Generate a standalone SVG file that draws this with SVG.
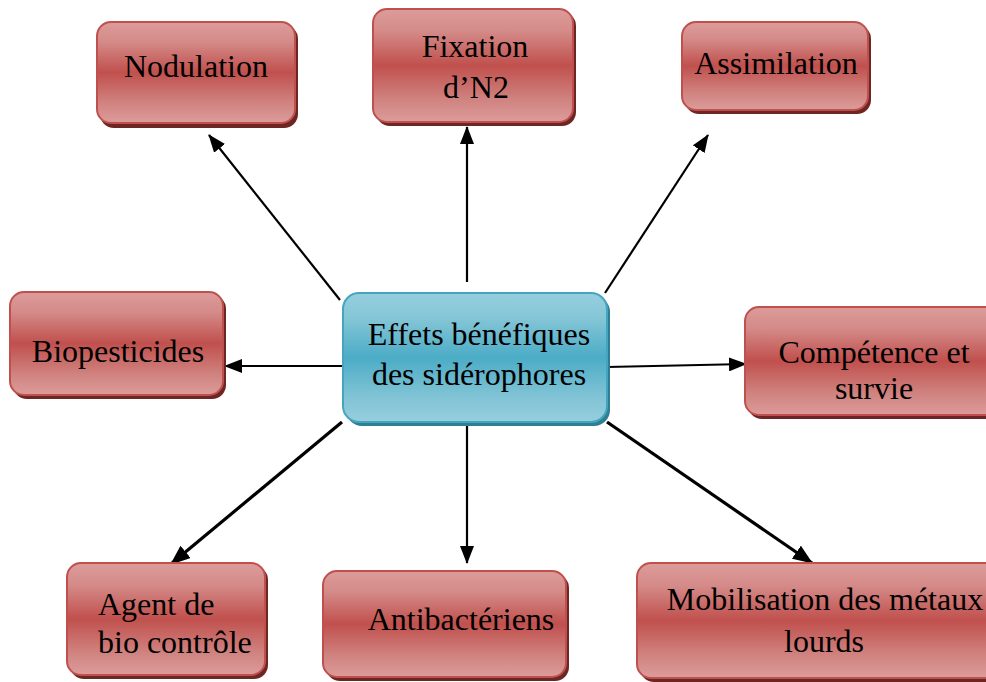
<svg xmlns="http://www.w3.org/2000/svg" width="986" height="682" viewBox="0 0 986 682">
<defs>
<linearGradient id="gRed" x1="0" y1="0" x2="0" y2="1">
<stop offset="0" stop-color="#dc9c9a"/>
<stop offset="0.2" stop-color="#d48a88"/>
<stop offset="0.5" stop-color="#c0504d"/>
<stop offset="0.8" stop-color="#d08380"/>
<stop offset="1" stop-color="#dc9c9a"/>
</linearGradient>
<linearGradient id="gBlue" x1="0" y1="0" x2="0" y2="1">
<stop offset="0" stop-color="#96cfde"/>
<stop offset="0.2" stop-color="#84c5d6"/>
<stop offset="0.5" stop-color="#4bacc6"/>
<stop offset="0.8" stop-color="#80c3d5"/>
<stop offset="1" stop-color="#96cfde"/>
</linearGradient>
<marker id="ah" viewBox="0 0 18 14" markerWidth="18" markerHeight="14" refX="17" refY="7" orient="auto" markerUnits="userSpaceOnUse">
<path d="M0,0 L18,7 L0,14 z" fill="#000"/>
</marker>
<marker id="ahb" viewBox="0 0 20 16" markerWidth="20" markerHeight="16" refX="19" refY="8" orient="auto" markerUnits="userSpaceOnUse">
<path d="M0,0 L20,8 L0,16 z" fill="#000"/>
</marker>
</defs>
<style>
.sh{fill:#6e2624}
.bx{fill:url(#gRed);stroke:#c0504d;stroke-width:2}
.shb{fill:#2e7f94}
.bxb{fill:url(#gBlue);stroke:#45a5bf;stroke-width:2}
text{font-family:"Liberation Serif","Times New Roman","DejaVu Serif",serif;font-size:32px;fill:#000}
.c{text-anchor:middle}
.ln{stroke:#000;stroke-width:2.2;fill:none;marker-end:url(#ah)}
.lnb{stroke:#000;stroke-width:3.2;fill:none;marker-end:url(#ahb)}
</style>
<g id="connectors">
<line class="ln" x1="340" y1="300" x2="209" y2="135"/>
<line class="ln" x1="467" y1="282" x2="467" y2="127"/>
<line class="ln" x1="605" y1="293" x2="708" y2="135"/>
<line class="ln" x1="343" y1="366" x2="225" y2="366"/>
<line class="ln" x1="607" y1="367" x2="746" y2="364"/>
<line class="lnb" x1="342" y1="422" x2="171" y2="564"/>
<line class="ln" x1="467" y1="420" x2="467" y2="563"/>
<line class="lnb" x1="607" y1="422" x2="812" y2="563"/>
</g>
<g id="nodulation">
<rect class="sh" x="100" y="25" width="198" height="103" rx="14"/>
<rect class="bx" x="97" y="22" width="198" height="101" rx="14"/>
<text class="c" x="196" y="77" font-family="Liberation Serif, serif">Nodulation</text>
</g>
<g id="fixation">
<rect class="sh" x="376" y="12" width="200" height="114" rx="14"/>
<rect class="bx" x="373" y="9" width="200" height="113" rx="14"/>
<text class="c" x="475" y="57">Fixation</text>
<text class="c" x="476" y="98">d’N2</text>
</g>
<g id="assimilation">
<rect class="sh" x="685" y="25" width="186" height="89" rx="14"/>
<rect class="bx" x="682" y="22" width="186" height="88" rx="14"/>
<text class="c" x="776" y="74">Assimilation</text>
</g>
<g id="biopesticides">
<rect class="sh" x="13" y="295" width="213" height="104" rx="14"/>
<rect class="bx" x="10" y="292" width="213" height="103" rx="14"/>
<text class="c" x="118" y="362">Biopesticides</text>
</g>
<g id="center">
<rect class="shb" x="346" y="296" width="264" height="130" rx="16"/>
<rect class="bxb" x="343" y="293" width="264" height="129" rx="16"/>
<text class="c" x="479" y="345">Effets bénéfiques</text>
<text class="c" x="479" y="385">des sidérophores</text>
</g>
<g id="competence">
<rect class="sh" x="748" y="310" width="260" height="109" rx="14"/>
<rect class="bx" x="745" y="307" width="260" height="108" rx="14"/>
<text class="c" x="874" y="363">Compétence et</text>
<text class="c" x="874" y="399">survie</text>
</g>
<g id="agent">
<rect class="sh" x="70" y="566" width="198" height="113" rx="14"/>
<rect class="bx" x="67" y="563" width="198" height="112" rx="14"/>
<text x="98" y="615">Agent de</text>
<text x="98" y="653">bio contrôle</text>
</g>
<g id="antibacteriens">
<rect class="sh" x="326" y="574" width="243" height="107" rx="14"/>
<rect class="bx" x="323" y="571" width="243" height="106" rx="14"/>
<text class="c" x="461" y="630">Antibactériens</text>
</g>
<g id="mobilisation">
<rect class="sh" x="640" y="566" width="376" height="116" rx="14"/>
<rect class="bx" x="637" y="563" width="376" height="115" rx="14"/>
<text class="c" x="825" y="610">Mobilisation des métaux</text>
<text class="c" x="824" y="652">lourds</text>
</g>
</svg>
